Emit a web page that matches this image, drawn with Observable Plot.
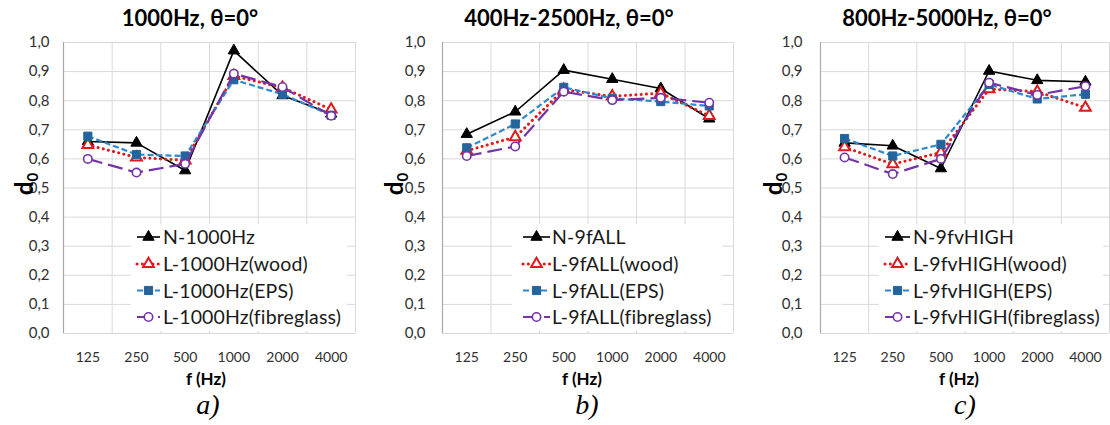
<!DOCTYPE html>
<html>
<head>
<meta charset="utf-8">
<script src="https://cdn.jsdelivr.net/npm/d3@7"></script>
<script src="https://cdn.jsdelivr.net/npm/@observablehq/plot@0.6"></script>
<style>
  html, body { margin: 0; padding: 0; background: #fff; }
  #root { position: relative; width: 1110px; height: 425px; overflow: hidden; background: #fff; }
  .panel { position: absolute; top: 0; }
  #overlay { position: absolute; left: 0; top: 0; }
</style>
</head>
<body>
<div id="root"></div>
<script>
// ---------------- data ----------------
const freqs = ["125", "250", "500", "1000", "2000", "4000"];
const yTicks = [0, 0.1, 0.2, 0.3, 0.4, 0.5, 0.6, 0.7, 0.8, 0.9, 1.0];
const titles = ["1000Hz, θ=0°", "400Hz-2500Hz, θ=0°", "800Hz-5000Hz, θ=0°"];
const captions = ["a)", "b)", "c)"];
const xLabel = "f (Hz)";

const namesA = ["N-1000Hz", "L-1000Hz(wood)", "L-1000Hz(EPS)", "L-1000Hz(fibreglass)"];
const namesB = ["N-9fALL", "L-9fALL(wood)", "L-9fALL(EPS)", "L-9fALL(fibreglass)"];
const namesC = ["N-9fvHIGH", "L-9fvHIGH(wood)", "L-9fvHIGH(EPS)", "L-9fvHIGH(fibreglass)"];

// panel a) 1000Hz
const a_N    = [0.660, 0.655, 0.560, 0.972, 0.818, 0.755];
const a_wood = [0.648, 0.605, 0.595, 0.885, 0.845, 0.770];
const a_EPS  = [0.678, 0.615, 0.610, 0.872, 0.822, 0.750];
const a_fib  = [0.600, 0.553, 0.583, 0.893, 0.847, 0.748];
// panel b) 400Hz-2500Hz
const b_N    = [0.685, 0.762, 0.905, 0.874, 0.842, 0.738];
const b_wood = [0.628, 0.675, 0.838, 0.815, 0.826, 0.748];
const b_EPS  = [0.638, 0.720, 0.846, 0.808, 0.797, 0.782];
const b_fib  = [0.610, 0.643, 0.831, 0.802, 0.810, 0.793];
// panel c) 800Hz-5000Hz
const c_N    = [0.655, 0.645, 0.567, 0.902, 0.870, 0.865];
const c_wood = [0.640, 0.582, 0.622, 0.840, 0.831, 0.776];
const c_EPS  = [0.670, 0.610, 0.650, 0.856, 0.806, 0.822];
const c_fib  = [0.605, 0.548, 0.600, 0.862, 0.820, 0.850];

// ---------------- styles & layout ----------------
const seriesStyle = [
  {stroke: "#000000", width: 1.6, dash: null, cap: "butt", symbol: "triangle", r: 4.2, fill: "#000000", mstroke: "#000000", mw: 1},
  {stroke: "#e0191b", width: 3, dash: "0.1 5.2", cap: "round", symbol: "triangle", r: 4.0, fill: "#ffffff", mstroke: "#e0191b", mw: 2},
  {stroke: "#2f88cc", width: 2.2, dash: "6 3", cap: "butt", symbol: "square", r: 4.6, fill: "#24649c", mstroke: "#24649c", mw: 1},
  {stroke: "#7434a8", width: 2.2, dash: "15 6", cap: "butt", symbol: "circle", r: 4.2, fill: "#ffffff", mstroke: "#7434a8", mw: 1.6}
];

const panels = [
  {series: [a_N, a_wood, a_EPS, a_fib], names: namesA, plotLeft: 63, plotW: 292, tickPad: 14, dX: 33,
   titleX: 190, fX: 206, capX: 208, box: [131, 224, 347, 331], sample: [137, 160], textX: 163},
  {series: [b_N, b_wood, b_EPS, b_fib], names: namesB, plotLeft: 442, plotW: 291, tickPad: 17, dX: 403,
   titleX: 569, fX: 582, capX: 587, box: [512, 224, 722, 331], sample: [523, 550], textX: 552},
  {series: [c_N, c_wood, c_EPS, c_fib], names: namesC, plotLeft: 820, plotW: 289, tickPad: 18, dX: 782,
   titleX: 947, fX: 959, capX: 965, box: [879, 224, 1103, 331], sample: [885, 910], textX: 913}
];

const ML = 60, MT = 42, PLOT_BOTTOM = 333, MB = 40;
const root = document.getElementById("root");
const bounds = freqs.map((_, i) => i - 0.5).concat([freqs.length - 0.5]);
const fmt = d => d.toFixed(1).replace(".", ",");

panels.forEach((p, pi) => {
  const marks = [
    Plot.ruleY(yTicks, {stroke: "#d9d9d9", strokeWidth: 1}),
    Plot.ruleX(bounds, {stroke: "#d9d9d9", strokeWidth: 1}),
    Plot.ruleX([bounds[0]], {stroke: "#a8a8a8", strokeWidth: 1.2}),
    Plot.axisY({ticks: yTicks, tickSize: 0, tickPadding: p.tickPad, tickFormat: fmt, label: null,
                fontSize: 15, fill: "#303030"}),
    Plot.axisX({ticks: d3.range(freqs.length), tickSize: 0, tickPadding: 19, tickFormat: i => freqs[i],
                label: null, fontSize: 14, fill: "#303030"})
  ];
  p.series.forEach((vals, si) => {
    const s = seriesStyle[si];
    const rows = vals.map((v, i) => ({i, v, name: p.names[si]}));
    marks.push(Plot.line(rows, {x: "i", y: "v", stroke: s.stroke, strokeWidth: s.width,
      strokeDasharray: s.dash, strokeLinecap: s.cap, strokeLinejoin: "round"}));
    marks.push(Plot.dot(rows, {x: "i", y: "v", symbol: s.symbol, r: s.r, fill: s.fill,
      stroke: s.mstroke, strokeWidth: s.mw}));
  });
  const mr = (pi === 2) ? 1 : 5;
  const chart = Plot.plot({
    width: ML + p.plotW + mr,
    height: PLOT_BOTTOM + MB,
    marginLeft: ML, marginRight: mr, marginTop: MT, marginBottom: MB,
    x: {type: "linear", domain: [bounds[0], bounds[bounds.length - 1]]},
    y: {domain: [0, 1]},
    style: {fontFamily: "Lato, sans-serif", fontSize: "14px", background: "transparent", overflow: "visible"},
    marks
  });
  const div = document.createElement("div");
  div.className = "panel";
  div.style.left = (p.plotLeft - ML) + "px";
  div.appendChild(chart);
  root.appendChild(div);
});

// ---------------- overlay: titles, labels, legends, captions ----------------
const svg = d3.select(root).append("svg").attr("id", "overlay")
  .attr("width", 1110).attr("height", 425)
  .attr("font-family", "Lato, sans-serif");

panels.forEach((p, pi) => {
  // title
  svg.append("text").attr("x", p.titleX).attr("y", 26).attr("text-anchor", "middle")
    .attr("font-size", 22).attr("font-weight", "bold").attr("fill", "#000").text(titles[pi]);
  // y label d0
  const yl = svg.append("text").attr("transform", `translate(${p.dX},184) rotate(-90)`)
    .attr("text-anchor", "middle").attr("font-size", 24).attr("font-weight", "bold").attr("fill", "#000");
  yl.append("tspan").text("d");
  yl.append("tspan").attr("font-size", 15).attr("dy", 5).text("0");
  // x label
  svg.append("text").attr("x", p.fX).attr("y", 385).attr("text-anchor", "middle")
    .attr("font-size", 17).attr("font-weight", "bold").attr("fill", "#000").text(xLabel);
  // caption
  svg.append("text").attr("x", p.capX).attr("y", 414).attr("text-anchor", "middle")
    .attr("font-family", "'Liberation Serif', 'DejaVu Serif', serif").attr("font-style", "italic")
    .attr("font-size", 28).attr("fill", "#000").text(captions[pi]);
  // legend box
  const [bx0, by0, bx1, by1] = p.box;
  svg.append("rect").attr("x", bx0).attr("y", by0).attr("width", bx1 - bx0).attr("height", by1 - by0)
    .attr("fill", "#fff");
  const rowY = [237, 264, 290.5, 317];
  p.names.forEach((name, si) => {
    const s = seriesStyle[si];
    const cy = rowY[si];
    const [sx0, sx1] = p.sample;
    svg.append("line").attr("x1", sx0).attr("x2", sx1).attr("y1", cy).attr("y2", cy)
      .attr("stroke", s.stroke).attr("stroke-width", s.width)
      .attr("stroke-dasharray", s.dash).attr("stroke-linecap", s.cap);
    const symType = s.symbol === "triangle" ? d3.symbolTriangle : s.symbol === "square" ? d3.symbolSquare : d3.symbolCircle;
    svg.append("path").attr("transform", `translate(${(sx0 + sx1) / 2},${cy})`)
      .attr("d", d3.symbol(symType, s.r * s.r * Math.PI)())
      .attr("fill", s.fill).attr("stroke", s.mstroke).attr("stroke-width", s.mw);
    svg.append("text").attr("x", p.textX).attr("y", cy + 7).attr("font-size", 19.5)
      .attr("letter-spacing", 0.15)
      .attr("fill", "#1a1a1a").text(name);
  });
});
</script>
</body>
</html>
